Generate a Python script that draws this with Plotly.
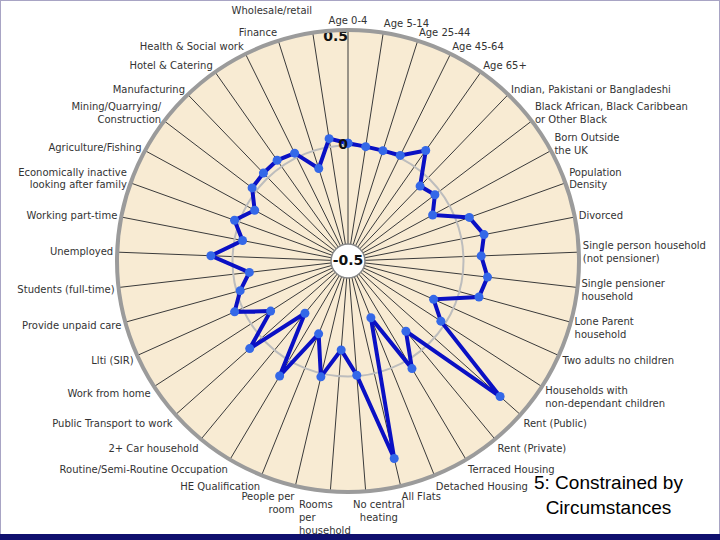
import plotly.graph_objects as go

NB = "\u00a0"

categories = [
    "Age 0-4", "Age 5-14", "Age 25-44", "Age 45-64", "Age 65+",
    "Indian, Pakistani or Bangladeshi",
    "Black African, Black Caribbean<br>or Other Black",
    "Born Outside<br>the UK", "Population<br>Density", "Divorced",
    "Single person household<br>(not pensioner)",
    "Single pensioner<br>household", "Lone Parent<br>household",
    "Two adults no children",
    "Households with<br>non-dependant children",
    "Rent (Public)", "Rent (Private)", "Terraced Housing", "Detached Housing",
    "All Flats", "No central<br>heating", "Rooms<br>per<br>household",
    "People per<br>room", "HE Qualification",
    "Routine/Semi-Routine Occupation", "2+ Car household",
    "Public Transport to work", "Work from home", "Llti (SIR)",
    "Provide unpaid care", "Students (full-time)", "Unemployed",
    "Working part-time", "Economically inactive<br>looking after family",
    "Agriculture/Fishing", "Mining/Quarrying/<br>Construction",
    "Manufacturing", "Hotel & Catering", "Health & Social work",
    "Finance", "Wholesale/retail",
]

values = [
    0.010, 0.001, 0.001, 0.010, 0.085,
    -0.050, -0.027, -0.083, 0.058, 0.100,
    0.077, 0.108, 0.088, -0.094, -0.021,
    0.382, -0.106, 0.042, -0.235, 0.378,
    -0.004, -0.114, 0.015, -0.160, 0.079,
    -0.207, 0.070, -0.101, 0.038, -0.016,
    -0.070, 0.094, -0.035, 0.022, -0.040,
    0.022, 0.028, 0.033, 0.021, -0.080,
    0.036,
]

radial_labels = ["0.5", "0", "-0.5"]
radial_values = [0.5, 0.0, -0.5]

# labels placed separately (left-aligned like the original)
separate_labels = ["No central<br>heating", "Rooms<br>per<br>household"]

tick_text = []
for c in categories:
    if c in separate_labels:
        tick_text.append("")
    elif c == "Wholesale/retail":
        tick_text.append(c + "<br>" + NB)
    else:
        tick_text.append(c)

fig = go.Figure()

# white centre disc with the -0.5 label
fig.add_trace(go.Scatterpolar(
    r=[radial_values[2]], theta=[categories[0]],
    mode="markers+text", text=["<b>" + radial_labels[2] + "</b>"],
    textposition="middle center",
    textfont=dict(family="DejaVu Sans", size=14, color="#111111"),
    marker=dict(size=34, color="white", line=dict(color="#888888", width=1.5)),
    hoverinfo="skip", showlegend=False,
))

# data line
fig.add_trace(go.Scatterpolar(
    r=values + [values[0]], theta=categories + [categories[0]],
    mode="lines+markers",
    line=dict(color="#0a10c4", width=4),
    marker=dict(size=9, color="#3468e8"),
    showlegend=False,
))

# radial labels 0.5 and 0
fig.add_trace(go.Scatterpolar(
    r=radial_values[:2], theta=[categories[0]] * 2,
    mode="text", text=["<b>" + t + "</b>" for t in radial_labels[:2]],
    textposition=["bottom left", "middle left"],
    textfont=dict(family="DejaVu Sans", size=14, color="#111111"),
    hoverinfo="skip", showlegend=False,
))

label_font = dict(family="DejaVu Sans", size=10, color="#333333")

fig.update_layout(
    width=720, height=540,
    margin=dict(l=0, r=0, t=0, b=0),
    paper_bgcolor="white",
    showlegend=False,
    polar=dict(
        domain=dict(x=[117 / 720, 579 / 720], y=[48 / 540, 510 / 540]),
        bgcolor="#f8ebd3",
        angularaxis=dict(
            type="category",
            categoryarray=categories,
            tickvals=categories,
            ticktext=tick_text,
            direction="clockwise",
            rotation=90,
            showline=True, linecolor="#9b9b9b", linewidth=4,
            showgrid=True, gridcolor="#3a3a3a", gridwidth=1,
            ticks="",
            tickfont=label_font,
        ),
        radialaxis=dict(
            range=[-0.5, 0.5],
            tickvals=[0],
            showticklabels=False,
            ticks="",
            showline=False,
            showgrid=True, gridcolor="#bdbdbd", gridwidth=2,
        ),
    ),
    shapes=[
        dict(type="rect", xref="paper", yref="paper", x0=0, x1=1, y0=0, y1=1,
             line=dict(color="#a8a4c4", width=2), fillcolor="rgba(0,0,0,0)",
             layer="below"),
        dict(type="rect", xref="paper", yref="paper", x0=0, x1=1, y0=0, y1=6 / 540,
             line=dict(width=0), fillcolor="#10106e", layer="below"),
    ],
    annotations=[
        dict(text="5: Constrained by<br>Circumstances", xref="paper", yref="paper",
             x=608 / 720, y=(540 - 495) / 540, xanchor="center", yanchor="middle",
             showarrow=False,
             font=dict(family="Liberation Sans, Arial", size=19, color="black"),
             align="center"),
        dict(text=separate_labels[1], xref="paper", yref="paper",
             x=297 / 720, y=(540 - 497) / 540, xanchor="left", yanchor="top",
             align="left", showarrow=False, font=label_font),
        dict(text=separate_labels[0], xref="paper", yref="paper",
             x=351 / 720, y=(540 - 497) / 540, xanchor="left", yanchor="top",
             align="center", showarrow=False, font=label_font),
    ],
)

fig.write_html("out.html", config={"displayModeBar": False},
               post_script="document.body.style.margin='0px';")
